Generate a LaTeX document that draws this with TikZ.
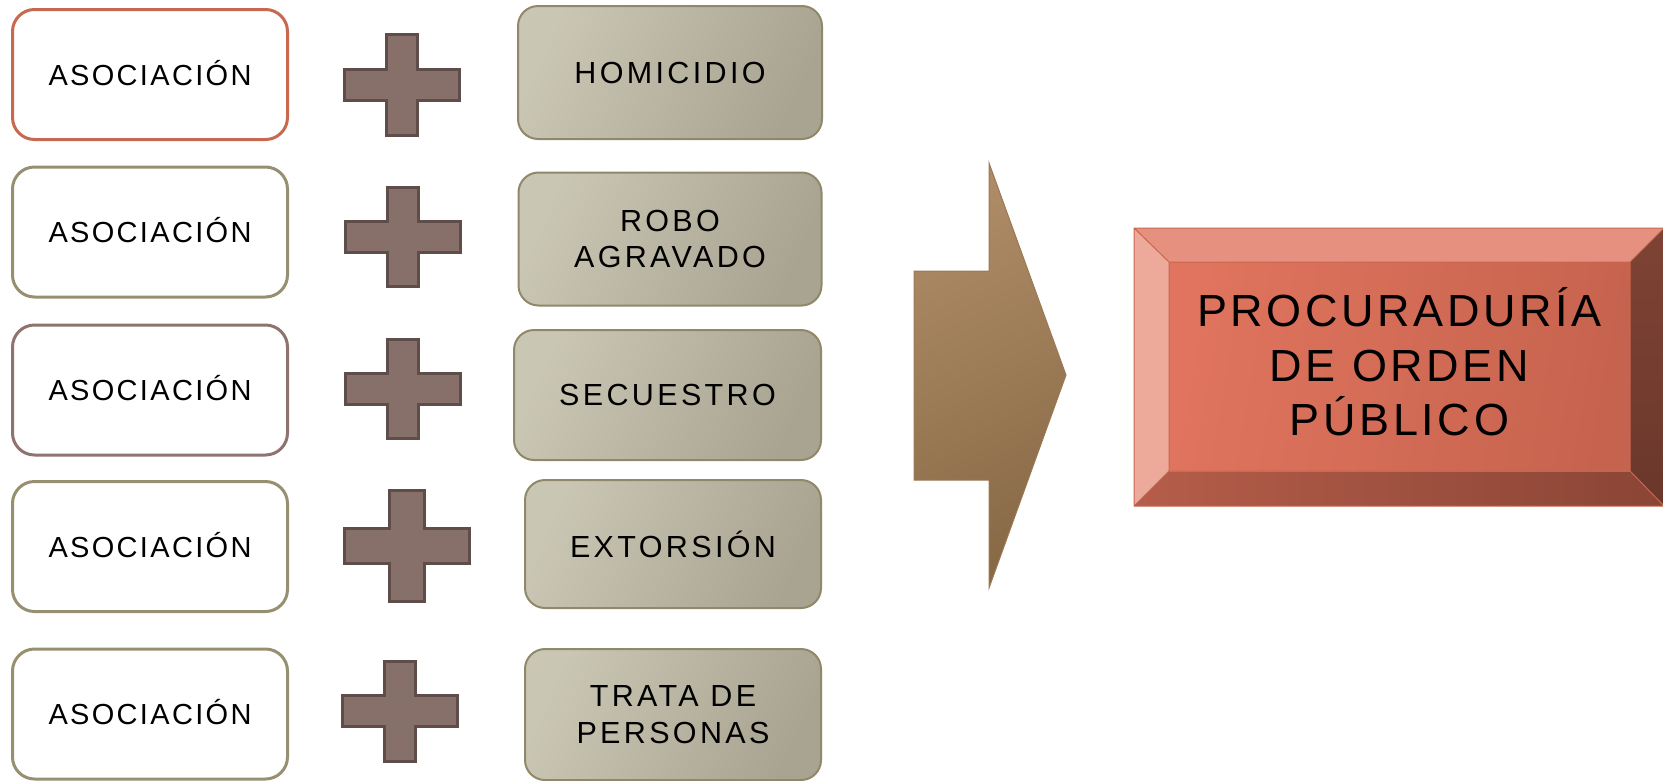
\documentclass[tikz,border=0pt]{standalone}
\usepackage{fontspec}
\setmainfont{Liberation Sans}[LetterSpace=8]
\newfontfamily\delitofont{Liberation Sans}[LetterSpace=11]
\usetikzlibrary{positioning}

\definecolor{bordeRojo}{HTML}{C8694F}
\definecolor{bordeOliva}{HTML}{979070}
\definecolor{bordeMalva}{HTML}{8E736E}
\definecolor{delitoA}{HTML}{CAC6B4}
\definecolor{delitoB}{HTML}{A8A491}
\definecolor{delitoBorde}{HTML}{8F8869}
\definecolor{cruzFondo}{HTML}{87706A}
\definecolor{cruzBorde}{HTML}{5E4D49}
\definecolor{flechaA}{HTML}{AE8B67}
\definecolor{flechaB}{HTML}{896A46}
\definecolor{flechaBorde}{HTML}{9A7953}
\definecolor{caraA}{HTML}{E0745E}
\definecolor{caraB}{HTML}{C6634E}
\definecolor{biselSup}{HTML}{E6917F}
\definecolor{biselIzq}{HTML}{EDAA9B}
\definecolor{biselInfA}{HTML}{B55D4A}
\definecolor{biselInfB}{HTML}{8A4535}
\definecolor{biselDerA}{HTML}{7E4335}
\definecolor{biselDerB}{HTML}{6B372B}
\definecolor{bordeCara}{HTML}{C8664F}

\begin{document}
\begin{tikzpicture}[x=1pt,y=-1pt,
  asoc/.style={draw=#1,line width=3pt,rounded corners=22pt,fill=white,
    minimum width=275pt,minimum height=130pt,text height=21pt,text depth=0pt,
    font=\fontsize{29}{36}\selectfont},
  delito/.style={draw=delitoBorde,line width=2pt,rounded corners=20pt,
    left color=delitoA,right color=delitoB,shading angle=65,align=center,
    minimum height=131pt,font=\delitofont\fontsize{30.5}{36.5}\selectfont},
  cruz/.style={fill=cruzFondo,draw=cruzBorde,line width=3pt},
  cara/.style={left color=caraA,right color=caraB,shading angle=80,align=center,
    minimum width=461pt,minimum height=209pt,font=\fontsize{45}{54.5}\selectfont}]
\path[use as bounding box] (0,0) rectangle (1663,780);
\clip (0,0) rectangle (1663,780);

% columna izquierda
\node[asoc=bordeRojo] (asoc1) at (150,74.5) {ASOCIACIÓN};
\node[asoc=bordeOliva] (asoc2) at (150,232) {ASOCIACIÓN};
\node[asoc=bordeMalva] (asoc3) at (150,390) {ASOCIACIÓN};
\node[asoc=bordeOliva] (asoc4) at (150,546.5) {ASOCIACIÓN};
\node[asoc=bordeOliva] (asoc5) at (150,714) {ASOCIACIÓN};

% signos mas
\foreach \cx/\cy/\w/\h/\t in {402/84.5/115/101/31, 402.5/236.5/115/99/31,
    402.5/389/115/99/31, 407/546/125/111/35, 400/711/115/100/31}
  \draw[cruz] (\cx-\t/2,\cy-\h/2) -- (\cx+\t/2,\cy-\h/2) -- (\cx+\t/2,\cy-\t/2)
    -- (\cx+\w/2,\cy-\t/2) -- (\cx+\w/2,\cy+\t/2) -- (\cx+\t/2,\cy+\t/2)
    -- (\cx+\t/2,\cy+\h/2) -- (\cx-\t/2,\cy+\h/2) -- (\cx-\t/2,\cy+\t/2)
    -- (\cx-\w/2,\cy+\t/2) -- (\cx-\w/2,\cy-\t/2) -- (\cx-\t/2,\cy-\t/2) -- cycle;

% delitos
\node[delito,minimum width=304pt,minimum height=133pt] (homicidio) at (670,72.5) {HOMICIDIO};
\node[delito,minimum width=303pt,minimum height=133pt] (robo) at (670,239) {ROBO\\AGRAVADO};
\node[delito,minimum width=307pt,minimum height=130pt] (secuestro) at (667.5,395) {SECUESTRO};
\node[delito,minimum width=296pt,minimum height=128pt] (extorsion) at (673,544) {EXTORSIÓN};
\node[delito,minimum width=296pt] (trata) at (673,714.5) {TRATA DE\\PERSONAS};

% flecha
\shadedraw[top color=flechaA,bottom color=flechaB,shading angle=25,draw=flechaBorde,line width=1pt]
  (914,271) -- (989,271) -- (989,163) -- (1066,375) -- (989,588) -- (989,480) -- (914,480) -- cycle;

% caja biselada
\coordinate (oNO) at (1134,228);
\coordinate (oNE) at (1664,228);
\coordinate (oSE) at (1664,506);
\coordinate (oSO) at (1134,506);
\coordinate (iNO) at (1169,262);
\coordinate (iNE) at (1630,262);
\coordinate (iSE) at (1630,471);
\coordinate (iSO) at (1169,471);
\fill[biselSup] (oNO) -- (oNE) -- (iNE) -- (iNO) -- cycle;
\fill[biselIzq] (oNO) -- (iNO) -- (iSO) -- (oSO) -- cycle;
\shade[left color=biselInfA,right color=biselInfB] (oSO) -- (iSO) -- (iSE) -- (oSE) -- cycle;
\shade[top color=biselDerA,bottom color=biselDerB] (oNE) -- (oSE) -- (iSE) -- (iNE) -- cycle;
\node[cara] (procuraduria) at (1399.5,366.5) {};
\node[font=\fontsize{45}{54.5}\selectfont,align=center] (texto) at (1399.5,362) {PROCURADURÍA\\DE ORDEN\\PÚBLICO};
\draw[bordeCara,line width=1pt] (oNO) rectangle (oSE) (iNO) rectangle (iSE)
  (oNO) -- (iNO) (oNE) -- (iNE) (oSE) -- (iSE) (oSO) -- (iSO);
\end{tikzpicture}
\end{document}
